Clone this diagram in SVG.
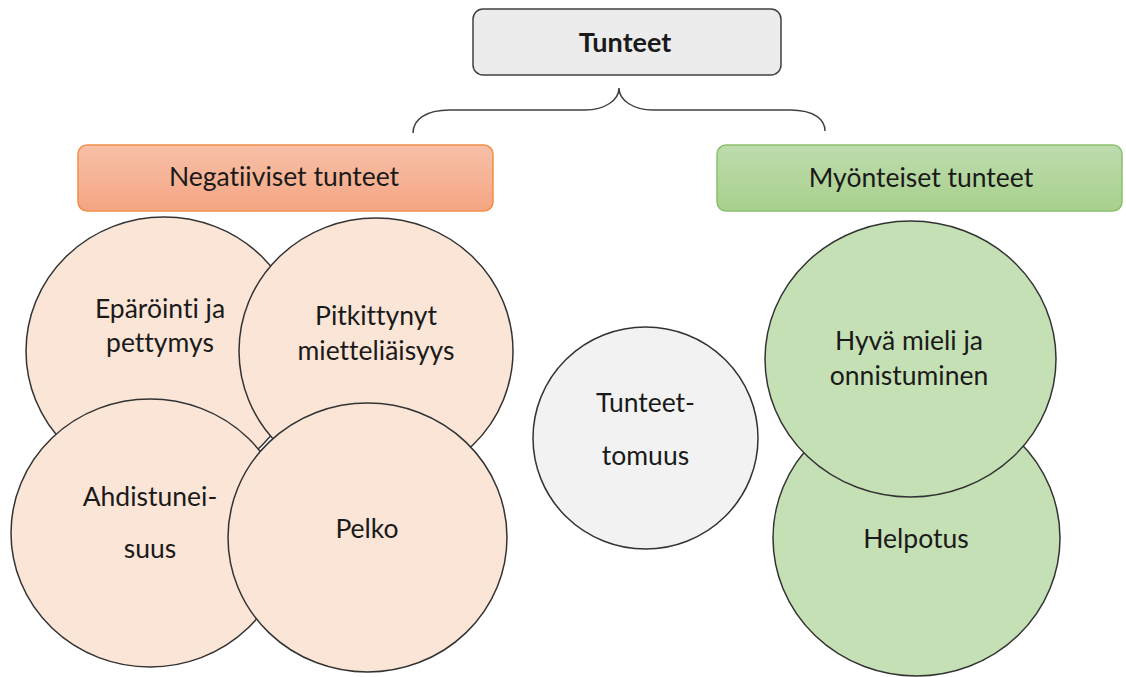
<svg xmlns="http://www.w3.org/2000/svg" width="1126" height="677" viewBox="0 0 1126 677">
  <defs>
    <linearGradient id="gradNeg" x1="0" y1="0" x2="0" y2="1">
      <stop offset="0" stop-color="#f8c0a8"/>
      <stop offset="1" stop-color="#f4a582"/>
    </linearGradient>
    <linearGradient id="gradPos" x1="0" y1="0" x2="0" y2="1">
      <stop offset="0" stop-color="#bedcae"/>
      <stop offset="1" stop-color="#a8d08c"/>
    </linearGradient>
  </defs>
  <style>
    text { font-family: Lato, "Liberation Sans", sans-serif; font-size: 26.5px; fill: #1a1a1a; text-anchor: middle; font-variant-ligatures: none; }
    .title { font-weight: bold; font-size: 27px; }
    .neg { fill: #fbe5d6; stroke: #333333; stroke-width: 1.5; }
    .pos { fill: #c5e0b4; stroke: #333333; stroke-width: 1.5; }
    .neu { fill: #f2f2f2; stroke: #333333; stroke-width: 1.5; }
    .brace { fill: none; stroke: #404040; stroke-width: 1.5; }
  </style>
  <rect width="1126" height="677" fill="#ffffff"/>

  <!-- root -->
  <g id="tunteet">
    <rect x="473" y="9" width="308" height="66" rx="10" fill="#ececec" stroke="#404040" stroke-width="1.5"/>
    <text class="title" x="625" y="52">Tunteet</text>
  </g>

  <!-- brace linking the root to both categories -->
  <g id="connectors">
    <path class="brace" d="M413,133 C413,120 425,110 450,110 L585,110 C605,110 619,100 619,88 C619,100 633,110 653,110 L790,110 C815,110 825,120 825,131"/>
  </g>

  <g id="negatiiviset">
    <rect x="78" y="145" width="415" height="66" rx="9" fill="url(#gradNeg)" stroke="#f0904a" stroke-width="1.5"/>
    <text x="284" y="186">Negatiiviset tunteet</text>
  </g>

  <g id="myonteiset">
    <rect x="717" y="145" width="405" height="66" rx="9" fill="url(#gradPos)" stroke="#8cc06c" stroke-width="1.5"/>
    <text x="921" y="187">Myönteiset tunteet</text>
  </g>

  <g id="eparointi">
    <ellipse class="neg" cx="164" cy="351" rx="138" ry="134"/>
    <text x="160" y="318">Epäröinti ja</text>
    <text x="160" y="352">pettymys</text>
  </g>

  <g id="pitkittynyt">
    <ellipse class="neg" cx="376" cy="351" rx="137" ry="133"/>
    <text x="376" y="325">Pitkittynyt</text>
    <text x="376" y="360">mietteliäisyys</text>
  </g>

  <g id="ahdistuneisuus">
    <ellipse class="neg" cx="150" cy="533" rx="139" ry="134"/>
    <text x="150" y="506">Ahdistunei-</text>
    <text x="150" y="558">suus</text>
  </g>

  <g id="pelko">
    <ellipse class="neg" cx="367.5" cy="537.5" rx="139.5" ry="134.5"/>
    <text x="367" y="538">Pelko</text>
  </g>

  <g id="tunteettomuus">
    <ellipse class="neu" cx="645.5" cy="438" rx="112.5" ry="111"/>
    <text x="645.5" y="412">Tunteet-</text>
    <text x="645.5" y="465">tomuus</text>
  </g>

  <g id="helpotus">
    <ellipse class="pos" cx="916.5" cy="538" rx="143.5" ry="138"/>
    <text x="916" y="548">Helpotus</text>
  </g>

  <g id="hyva-mieli">
    <ellipse class="pos" cx="910.5" cy="359" rx="145.5" ry="138"/>
    <text x="909" y="350">Hyvä mieli ja</text>
    <text x="909" y="385">onnistuminen</text>
  </g>
</svg>
